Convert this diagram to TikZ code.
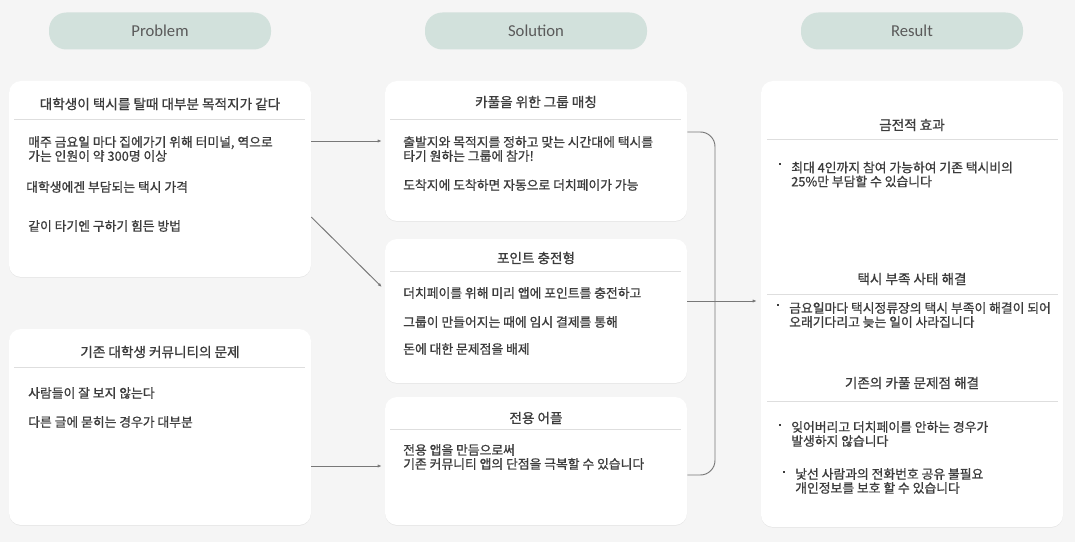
\documentclass[tikz,border=0pt]{standalone}
\usepackage{fontspec}
\setmainfont{Noto Sans CJK KR}[FakeBold=0.9]
\newfontfamily\headfont{Carlito}
\usetikzlibrary{positioning,arrows.meta,calc,fit,shadows}
\definecolor{canvasBg}{RGB}{245,245,245}
\definecolor{pillFill}{RGB}{210,225,220}
\definecolor{ruleGray}{RGB}{222,222,222}
\definecolor{linkGray}{RGB}{120,120,120}
\definecolor{textGray}{RGB}{60,60,60}
\definecolor{headGray}{RGB}{90,90,90}
\tikzset{
    % Style for the column headers
    pill/.style={
        fill=pillFill,
        rounded corners=13pt,
        minimum width=166.5pt,
        minimum height=27.75pt,
        font=\headfont\fontsize{12.5}{14}\selectfont,
        text=headGray
    },
    % White cards with a soft shadow
    card/.style={
        fill=white,
        rounded corners=9pt,
        inner sep=0pt,
        drop shadow={shadow xshift=0pt, shadow yshift=-0.6pt, opacity=0.06, fill=black}
    },
    % Card titles and body text
    card title/.style={
        font=\fontsize{10.2}{11}\selectfont,
        text=textGray
    },
    card text/.style={
        font=\fontsize{9.6}{10.5}\selectfont,
        text=textGray,
        anchor=west,
        align=left,
        inner sep=0pt
    },
    bullet/.style={
        fill=textGray,
        inner sep=0pt,
        minimum size=2.2pt
    },
    divider/.style={
        draw=ruleGray,
        line width=0.6pt
    },
    link/.style={
        draw=linkGray,
        line width=0.7pt,
        -{Latex[length=3pt,width=2.4pt]}
    }
}

\begin{document}
\begin{tikzpicture}[x=0.75pt,y=-0.75pt]

% Set the canvas size
\fill[canvasBg] (0,0) rectangle (1075,542);
\useasboundingbox (0,0) rectangle (1075,542);

% Column headers
\node[pill] (hProblem) at (160,31) {Problem};
\node[pill] (hSolution) at (536,31) {Solution};
\node[pill] (hResult) at (912,31) {Result};

% Problem cards
\node[card, fit={(9,81) (311,277)}] (p1) {};
\node[card, fit={(9,329) (311,525)}] (p2) {};

\node[card title] (p1t) at (160,104) {대학생이 택시를 탈때 대부분 목적지가 같다};
\draw[divider] (14,119) -- (305,119);
\node[card text] (p1a) at (28,149) {매주 금요일 마다 집에가기 위해 터미널, 역으로\\가는 인원이 약 300명 이상};
\node[card text] (p1b) at (26,187) {대학생에겐 부담되는 택시 가격};
\node[card text] (p1c) at (28,226) {같이 타기엔 구하기 힘든 방법};

\node[card title] (p2t) at (160,352) {기존 대학생 커뮤니티의 문제};
\draw[divider] (14,367) -- (305,367);
\node[card text] (p2a) at (28,393) {사람들이 잘 보지 않는다};
\node[card text] (p2b) at (28,422) {다른 글에 묻히는 경우가 대부분};

% Solution cards
\node[card, fit={(385,81) (687,221)}] (s1) {};
\node[card, fit={(385,239) (687,383)}] (s2) {};
\node[card, fit={(385,397) (687,525)}] (s3) {};

\node[card title] (s1t) at (536,102) {카풀을 위한 그룹 매칭};
\draw[divider] (390,119) -- (681,119);
\node[card text] (s1a) at (403,149) {출발지와 목적지를 정하고 맞는 시간대에 택시를\\타기 원하는 그룹에 참가!};
\node[card text] (s1b) at (403,185) {도착지에 도착하면 자동으로 더치페이가 가능};

\node[card title] (s2t) at (536,258) {포인트 충전형};
\draw[divider] (390,271) -- (681,271);
\node[card text] (s2a) at (403,293) {더치페이를 위해 미리 앱에 포인트를 충전하고};
\node[card text] (s2b) at (403,322) {그룹이 만들어지는 때에 임시 결제를 통해};
\node[card text] (s2c) at (403,349) {돈에 대한 문제점을 배제};

\node[card title] (s3t) at (536,418) {전용 어플};
\draw[divider] (390,429) -- (681,429);
\node[card text] (s3a) at (403,457) {전용 앱을 만듬으로써\\기존 커뮤니티 앱의 단점을 극복할 수 있습니다};

% Result card
\node[card, fit={(761,81) (1063,527)}] (r) {};

\node[card title] (r1t) at (912,125) {금전적 효과};
\draw[divider] (767,139) -- (1058,139);
\node[bullet] at (780,164) {};
\node[card text] (r1a) at (791,174.5) {최대 4인까지 참여 가능하여 기존 택시비의\\25\%만 부담할 수 있습니다};

\node[card title] (r2t) at (912,279) {택시 부족 사태 해결};
\draw[divider] (767,294) -- (1058,294);
\node[bullet] at (778,305) {};
\node[card text] (r2a) at (789,315) {금요일마다 택시정류장의 택시 부족이 해결이 되어\\오래기다리고 늦는 일이 사라집니다};

\node[card title] (r3t) at (912,383) {기존의 카풀 문제점 해결};
\draw[divider] (767,401) -- (1058,401);
\node[bullet] at (780,425) {};
\node[card text] (r3a) at (791,434) {잊어버리고 더치페이를 안하는 경우가\\발생하지 않습니다};
\node[bullet] at (784,472) {};
\node[card text] (r3b) at (795,481) {낯선 사람과의 전화번호 공유 불필요\\개인정보를 보호 할 수 있습니다};

% Connectors
\draw[link] (p1.east |- 0,141) -- ([xshift=-2.25pt]s1.west |- 0,141);
\draw[link] (p1.east |- 0,217) -- ([xshift=-2.25pt]s2.west |- 0,287);
\draw[link] (p2.east |- 0,466) -- ([xshift=-2.25pt]s3.west |- 0,466);
\draw[link, -, rounded corners=11pt] (s1.east |- 0,132) -| (715,300) |- (s3.east |- 0,475);
\draw[link] (s2.east |- 0,301) -- ([xshift=-3pt]r.west |- 0,301);

\end{tikzpicture}
\end{document}
